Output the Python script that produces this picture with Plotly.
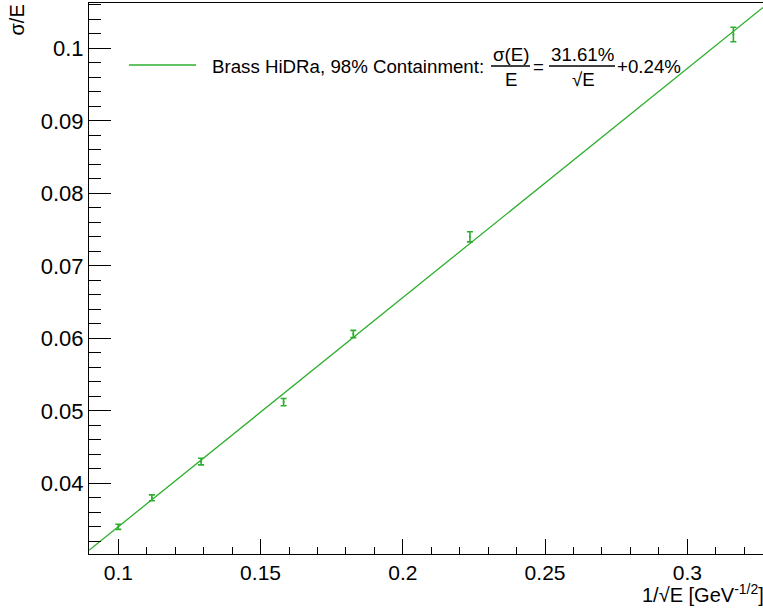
import plotly.graph_objects as go

# ---- data ----
inv_sqrt_e = [0.1, 0.1118, 0.1291, 0.1581, 0.1826, 0.2236, 0.3162]
sigma_over_e = [0.0340, 0.0380, 0.0430, 0.0512, 0.0606, 0.0740, 0.1019]
sigma_err = [0.00035, 0.0004, 0.00045, 0.0005, 0.0005, 0.0007, 0.001]
fit_stochastic = 0.3161
fit_constant = 0.0024
legend_label = "Brass HiDRa, 98% Containment:"
x_ticks = [0.1, 0.15, 0.2, 0.25, 0.3]
y_ticks = [0.04, 0.05, 0.06, 0.07, 0.08, 0.09, 0.1]

# ---- layout geometry ----
W, H = 763, 608
L, R, T, B = 89, 0, 3, 54
XR = [0.0897, 0.32661]
YR = [0.03025, 0.10625]
GREEN = "rgb(45,175,45)"
FONT = "Liberation Sans, Arial, Helvetica, sans-serif"


def px(x):
    return (x - L) / (W - L - R)


def py(y):
    return (H - B - y) / (H - T - B)


fig = go.Figure()

# fit line across the whole frame
fig.add_trace(go.Scatter(
    x=[XR[0], XR[1]],
    y=[fit_stochastic * XR[0] + fit_constant, fit_stochastic * XR[1] + fit_constant],
    mode="lines", line=dict(color=GREEN, width=1.3), showlegend=False, hoverinfo="skip",
))

# data points with error bars
fig.add_trace(go.Scatter(
    x=inv_sqrt_e, y=sigma_over_e, mode="markers",
    marker=dict(color=GREEN, size=2),
    error_y=dict(type="data", array=sigma_err, visible=True, color=GREEN, thickness=1.6, width=3),
    showlegend=False,
))

fig.update_xaxes(
    range=XR, tickvals=x_ticks, ticktext=[f"{v:g}" for v in x_ticks],
    ticks="inside", ticklen=15, tickwidth=1, tickcolor="black",
    minor=dict(dtick=0.01, tick0=0, ticks="inside", ticklen=7, tickcolor="black", tickwidth=1),
    showline=True, linecolor="black", linewidth=1, mirror=True,
    showgrid=False, zeroline=False, tickfont=dict(family=FONT, size=21, color="black"),
    automargin=False,
)
fig.update_yaxes(
    range=YR, tickvals=y_ticks, ticktext=[f"{v:g}" for v in y_ticks],
    ticks="inside", ticklen=22, tickwidth=1, tickcolor="black",
    minor=dict(dtick=0.002, tick0=0, ticks="inside", ticklen=12, tickcolor="black", tickwidth=1),
    showline=True, linecolor="black", linewidth=1, mirror=False,
    showgrid=False, zeroline=False, tickfont=dict(family=FONT, size=22, color="black"),
    ticklabelstandoff=0,
    automargin=False,
)

shapes = []
ann = []

# axis titles
ann.append(dict(x=px(766), y=py(593), xref="paper", yref="paper",
                text="1/√E [GeV<sup>-1/2</sup>]", showarrow=False,
                xanchor="right", yanchor="middle",
                font=dict(family=FONT, size=20, color="black")))
ann.append(dict(x=px(16), y=py(3), xref="paper", yref="paper",
                text="σ/E", showarrow=False, textangle=-90,
                xanchor="center", yanchor="top",
                font=dict(family=FONT, size=20, color="black")))

# legend
ly = 65
shapes.append(dict(type="line", xref="paper", yref="paper",
                   x0=px(129), x1=px(196), y0=py(ly), y1=py(ly),
                   line=dict(color=GREEN, width=1.5)))
lf = dict(family=FONT, size=18.7, color="black")
ann.append(dict(x=px(210), y=py(ly + 1), xref="paper", yref="paper", text=legend_label,
                showarrow=False, xanchor="left", yanchor="middle", font=lf))
# sigma(E)/E fraction
ann.append(dict(x=px(510.5), y=py(54), xref="paper", yref="paper", text="σ(E)",
                showarrow=False, xanchor="center", yanchor="middle", font=lf))
ann.append(dict(x=px(510.5), y=py(79), xref="paper", yref="paper", text="E",
                showarrow=False, xanchor="center", yanchor="middle", font=lf))
shapes.append(dict(type="line", xref="paper", yref="paper",
                   x0=px(491), x1=px(530), y0=py(ly + 1), y1=py(ly + 1),
                   line=dict(color="black", width=1.3)))
ann.append(dict(x=px(538.5), y=py(ly + 1), xref="paper", yref="paper", text="=",
                showarrow=False, xanchor="center", yanchor="middle", font=lf))
# stochastic term fraction
ann.append(dict(x=px(582), y=py(54), xref="paper", yref="paper",
                text=f"{fit_stochastic * 100:.2f}%",
                showarrow=False, xanchor="center", yanchor="middle", font=lf))
ann.append(dict(x=px(583), y=py(79), xref="paper", yref="paper", text="√E",
                showarrow=False, xanchor="center", yanchor="middle", font=lf))
shapes.append(dict(type="line", xref="paper", yref="paper",
                   x0=px(549), x1=px(615), y0=py(ly + 1), y1=py(ly + 1),
                   line=dict(color="black", width=1.3)))
ann.append(dict(x=px(615), y=py(ly + 1), xref="paper", yref="paper",
                text=f"+{fit_constant * 100:.2f}%",
                showarrow=False, xanchor="left", yanchor="middle", font=lf))

fig.update_layout(
    width=W, height=H,
    margin=dict(l=L, r=R, t=T, b=B, pad=0, autoexpand=False),
    paper_bgcolor="white", plot_bgcolor="white",
    shapes=shapes, annotations=ann,
    font=dict(family=FONT, color="black"),
    showlegend=False,
)

fig.write_html(
    "out.html",
    config={"displayModeBar": False},
    post_script="document.body.style.margin='0px';document.body.style.overflow='hidden';",
)
